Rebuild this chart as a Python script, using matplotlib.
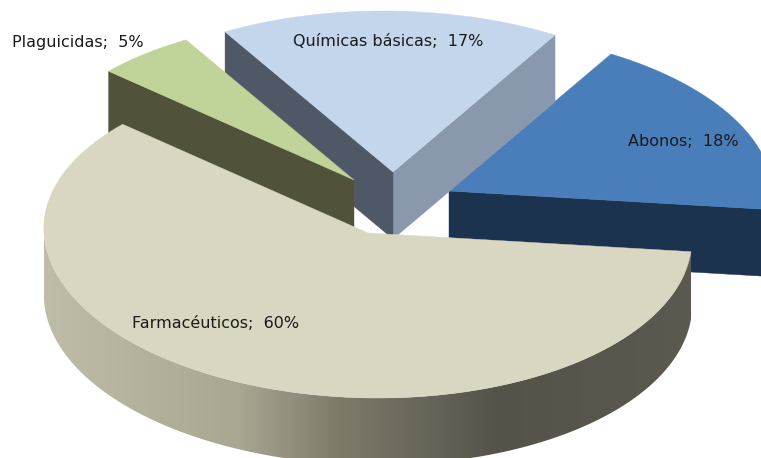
import matplotlib
matplotlib.use('Agg')
import matplotlib.pyplot as plt
from matplotlib.colors import LinearSegmentedColormap
from matplotlib.patches import Polygon
import numpy as np

categories = ['Farmacéuticos', 'Abonos', 'Químicas básicas', 'Plaguicidas']
values = [60, 18, 17, 5]

top_colors = ['#d9d7c1', '#4a7ebb', '#c3d6ec', '#c0d399']
# colours of the cut faces, None when the face is hidden anyway
start_face = [None, '#1c3350', '#8a98ad', None]
end_face = [None, None, '#4f5866', '#50533a']
wall_colors = [None, '#1c3350', '#8a98ad', '#50533a']

# pie geometry, in pixels
cx, cy = 368, 233
rx = 324
ry_front, ry_back = 165, 161
depth = 67
shear = 0.06  # the back of the pie leans left a bit
start_angle = 137.5
offsets = [(0, 0), (81, -42), (25, -61), (-14, -53)]
label_pos = [(216, 323), (683, 142), (388, 42), (78, 42)]

side_stops = ['#bfbca7', '#a9a692', '#7f7c6c', '#55524a', '#5c5950']
side_pos = [0.0, 0.3, 0.45, 0.7, 1.0]

fig = plt.figure(figsize=(7.61, 4.58), dpi=100)
ax = fig.add_axes([0, 0, 1, 1])
ax.set_axis_off()


def rim(angles, ox, oy, dz=0):
    t = np.radians(angles)
    s = np.sin(t)
    y = np.where(s > 0, ry_back, ry_front) * s
    return np.column_stack((cx + ox + rx * np.cos(t) - shear * y, cy + oy + dz - y))


def radial_face(angle, ox, oy, color, z):
    if color is None:
        return
    tip = rim([angle], ox, oy)[0]
    apex = np.array([cx + ox, cy + oy])
    pts = [apex, tip, tip + [0, depth], apex + [0, depth]]
    ax.add_patch(Polygon(pts, closed=True, fc=color, ec=color, lw=0.3, zorder=z))


edges = start_angle + np.cumsum([0] + values) * 3.6

# back slices first, farmaceuticos goes on top of all of them
draw_order = [1, 2, 3, 0]
for z, i in enumerate(draw_order):
    ox, oy = offsets[i]
    a0, a1 = edges[i], edges[i + 1]
    base = z * 10 + 1

    radial_face(a0, ox, oy, start_face[i], base)
    radial_face(a1, ox, oy, end_face[i], base + 1)

    # outer wall, only the part turned to the viewer
    lo, hi = max(a0, 177), min(a1, 360)
    if hi > lo:
        arc = np.linspace(lo, hi, 200)
        wall = np.vstack((rim(arc, ox, oy), rim(arc[::-1], ox, oy, depth)))
        if i == 0:
            cmap = LinearSegmentedColormap.from_list('side', list(zip(side_pos, side_stops)))
            im = ax.imshow(np.linspace(0, 1, 512).reshape(1, -1), cmap=cmap, aspect='auto',
                           extent=(wall[:, 0].min(), wall[:, 0].max(), wall[:, 1].max(), wall[:, 1].min()),
                           zorder=base + 2)
            clip = Polygon(wall, closed=True, transform=ax.transData)
            im.set_clip_path(clip)
        else:
            ax.add_patch(Polygon(wall, closed=True, fc=wall_colors[i], ec='none', zorder=base + 2))

    arc = np.linspace(a0, a1, 300)
    top = np.vstack(([cx + ox, cy + oy], rim(arc, ox, oy)))
    ax.add_patch(Polygon(top, closed=True, fc=top_colors[i], ec=top_colors[i], lw=0.3, zorder=base + 3))

for name, val, pos in zip(categories, values, label_pos):
    ax.text(pos[0], pos[1], f'{name};  {val}%', ha='center', va='center', fontsize=11.5,
            family='DejaVu Sans', color='#1a1a1a', zorder=100)

ax.set_xlim(0, 761)
ax.set_ylim(458, 0)

fig.savefig('out.png', dpi=100)
